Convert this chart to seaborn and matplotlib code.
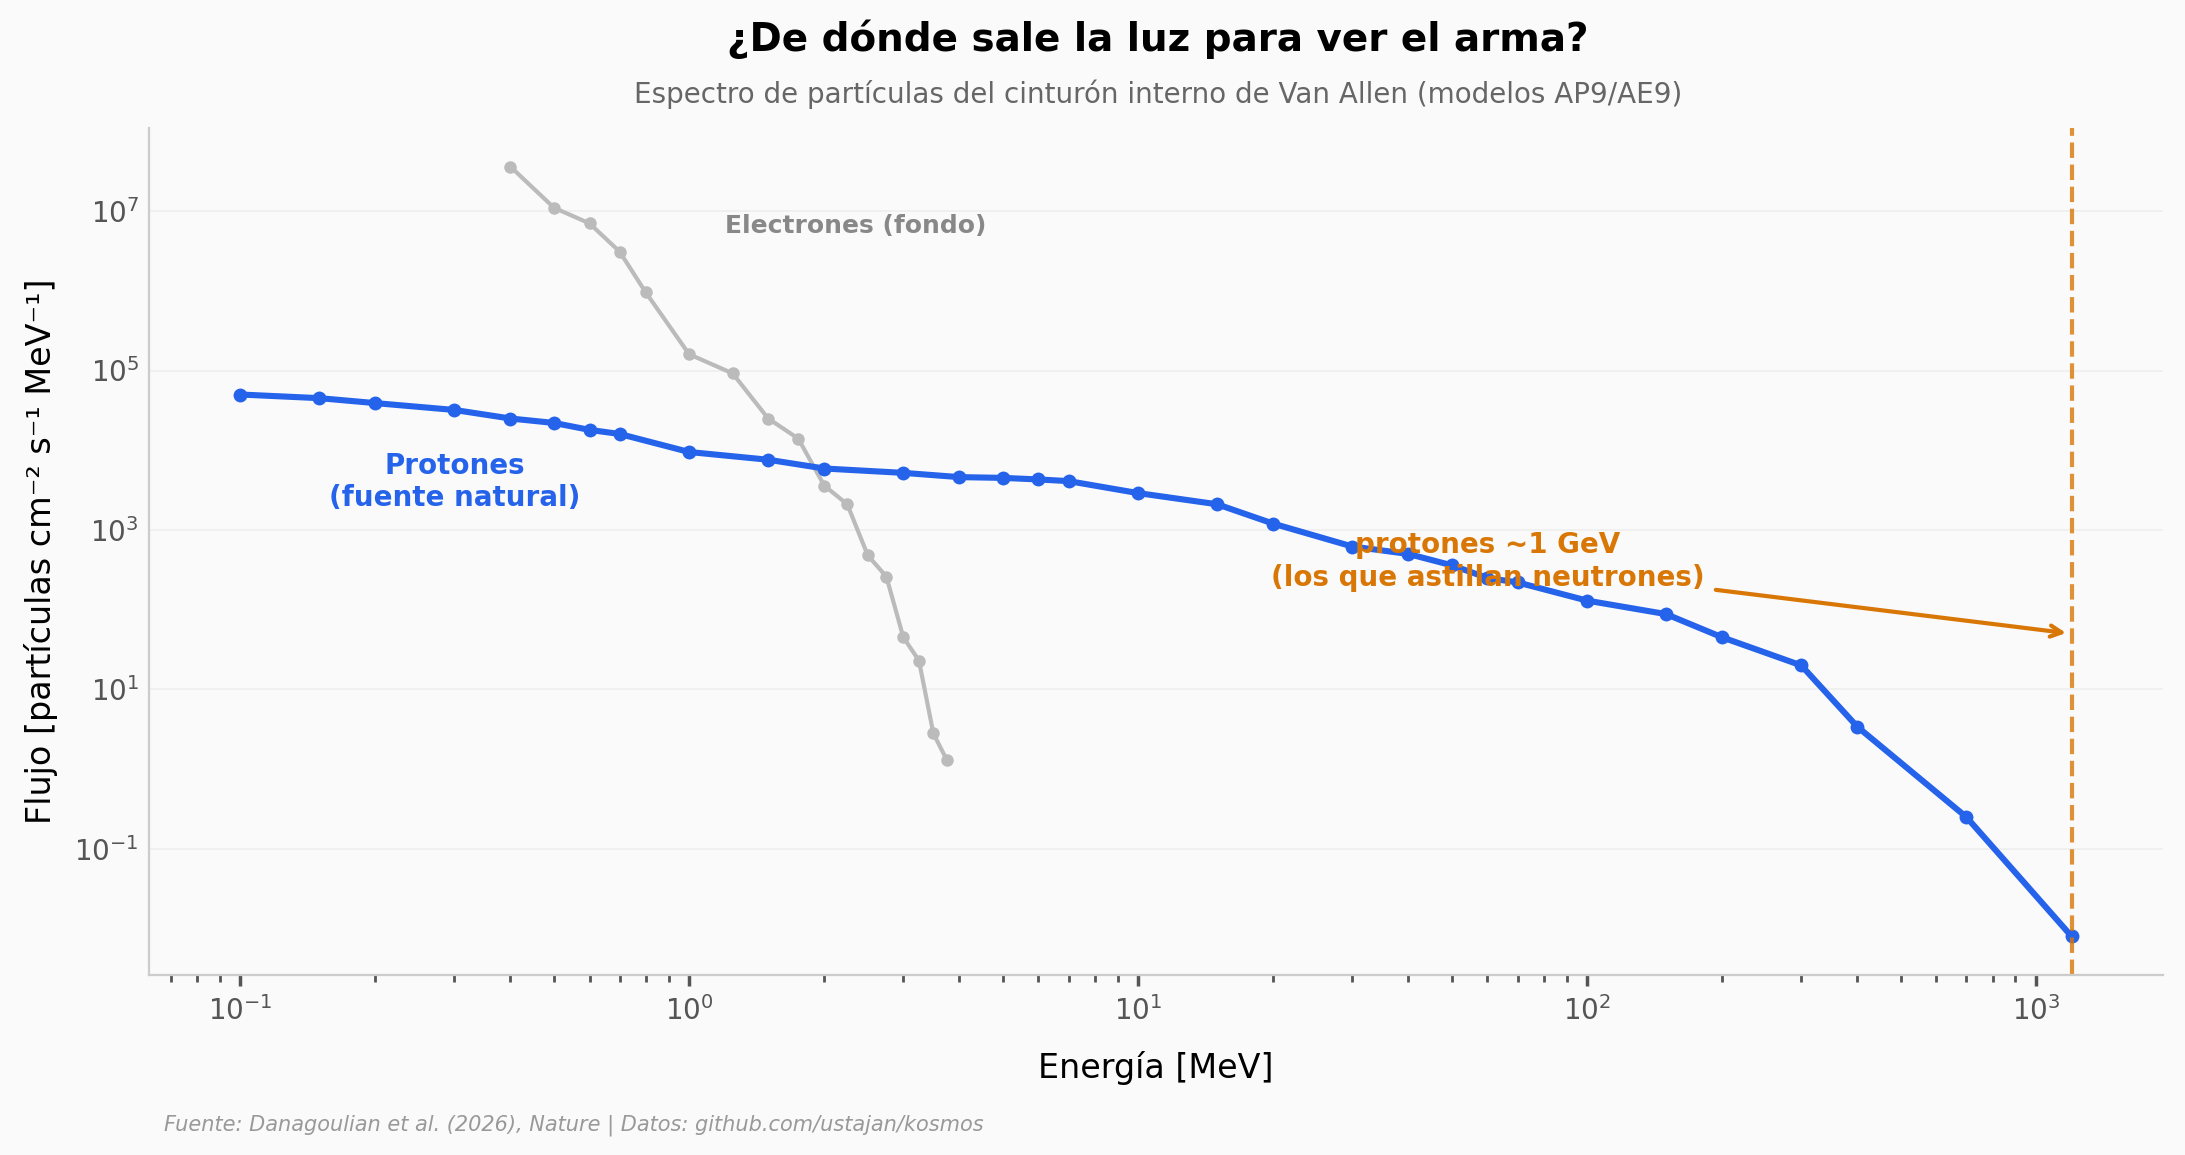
import numpy as np
import pandas as pd
import matplotlib
matplotlib.use("Agg")
import matplotlib.pyplot as plt
import seaborn as sns

# Protones (AP9) - energía [MeV] y flujo
proton_energy = [0.1, 0.15, 0.2, 0.3, 0.4, 0.5, 0.6, 0.7, 1.0, 1.5, 2, 3, 4, 5, 6, 7,
                 10, 15, 20, 30, 40, 50, 60, 70, 100, 150, 200, 300, 400, 700, 1200]
proton_flux = [5.0e4, 4.5e4, 3.9e4, 3.2e4, 2.5e4, 2.2e4, 1.8e4, 1.6e4, 9.5e3, 7.6e3,
               5.9e3, 5.2e3, 4.6e3, 4.5e3, 4.3e3, 4.1e3, 2.9e3, 2.1e3, 1.2e3, 620,
               500, 360, 250, 220, 130, 88, 45, 20, 3.4, 0.25, 0.008]

# Electrones (AE9)
electron_energy = [0.4, 0.5, 0.6, 0.7, 0.8, 1.0, 1.25, 1.5, 1.75, 2.0, 2.25, 2.5,
                   2.75, 3.0, 3.25, 3.5, 3.75]
electron_flux = [3.6e7, 1.1e7, 7.0e6, 3.1e6, 9.6e5, 1.6e5, 9.2e4, 2.5e4, 1.4e4,
                 3.6e3, 2.1e3, 480, 260, 45, 23, 2.8, 1.3]

gev_line = 1200

BLUE = "#2563eb"
GRAY = "#bbbbbb"
ORANGE = "#d97706"

sns.set_theme(style="white")
plt.rcParams['font.family'] = ['DejaVu Sans']

fig = plt.figure(figsize=(2185 / 200, 1155 / 200), dpi=200, facecolor="#fafafa")
ax = fig.add_axes([0.068, 0.156, 0.922, 0.733])
ax.set_facecolor("#fafafa")

df_p = pd.DataFrame({"E": proton_energy, "F": proton_flux})
df_e = pd.DataFrame({"E": electron_energy, "F": electron_flux})

sns.lineplot(data=df_e, x="E", y="F", ax=ax, color=GRAY, lw=1.5, marker="o",
             markersize=4.5, markeredgewidth=0)
sns.lineplot(data=df_p, x="E", y="F", ax=ax, color=BLUE, lw=2.2, marker="o",
             markersize=5, markeredgewidth=0)

ax.set_xscale("log")
ax.set_yscale("log")
ax.axvline(gev_line, color=ORANGE, ls="--", lw=1.5, alpha=0.8)

# etiquetas
ax.text(0.3, 4000, "Protones\n(fuente natural)", color=BLUE, fontsize=10,
        fontweight="bold", ha="center", va="center")
ax.text(1.2, 6.4e6, "Electrones (fondo)", color="#888888", fontsize=9,
        fontweight="bold", ha="left", va="center")
ax.annotate("protones ~1 GeV\n(los que astillan neutrones)", xy=(gev_line, 50),
            xytext=(60, 400), color=ORANGE, fontsize=10, fontweight="bold",
            ha="center", va="center",
            arrowprops=dict(arrowstyle="->", color=ORANGE, lw=1.5))

ax.yaxis.grid(True, color="#eeeeee", lw=0.6)
ax.set_yticks([1e-1, 1e1, 1e3, 1e5, 1e7])
ax.yaxis.set_minor_locator(matplotlib.ticker.NullLocator())
ax.tick_params(axis="y", length=0, labelsize=10, labelcolor="#555555")
ax.tick_params(axis="x", which="major", length=4, color="#555555",
               labelsize=10, labelcolor="#555555", bottom=True)
ax.tick_params(axis="x", which="minor", length=2.5, color="#555555", bottom=True)

for s in ["top", "right"]:
    ax.spines[s].set_visible(False)
for s in ["left", "bottom"]:
    ax.spines[s].set_color("#cccccc")
    ax.spines[s].set_linewidth(0.8)

ax.set_xlabel("Energía [MeV]", fontsize=12, labelpad=9, color="black")
ax.set_ylabel("Flujo [partículas cm⁻² s⁻¹ MeV⁻¹]", fontsize=12, labelpad=6,
              color="black")

fig.text(0.53, 0.966, "¿De dónde sale la luz para ver el arma?", ha="center",
         va="center", fontsize=14, fontweight="bold", color="black")
fig.text(0.53, 0.918, "Espectro de partículas del cinturón interno de Van Allen (modelos AP9/AE9)",
         ha="center", va="center", fontsize=10, color="#666666")
fig.text(0.075, 0.026, "Fuente: Danagoulian et al. (2026), Nature | Datos: github.com/ustajan/kosmos",
         ha="left", va="center", fontsize=7.5, color="#999999", style="italic")

fig.savefig("out.png", dpi=200, facecolor=fig.get_facecolor())
